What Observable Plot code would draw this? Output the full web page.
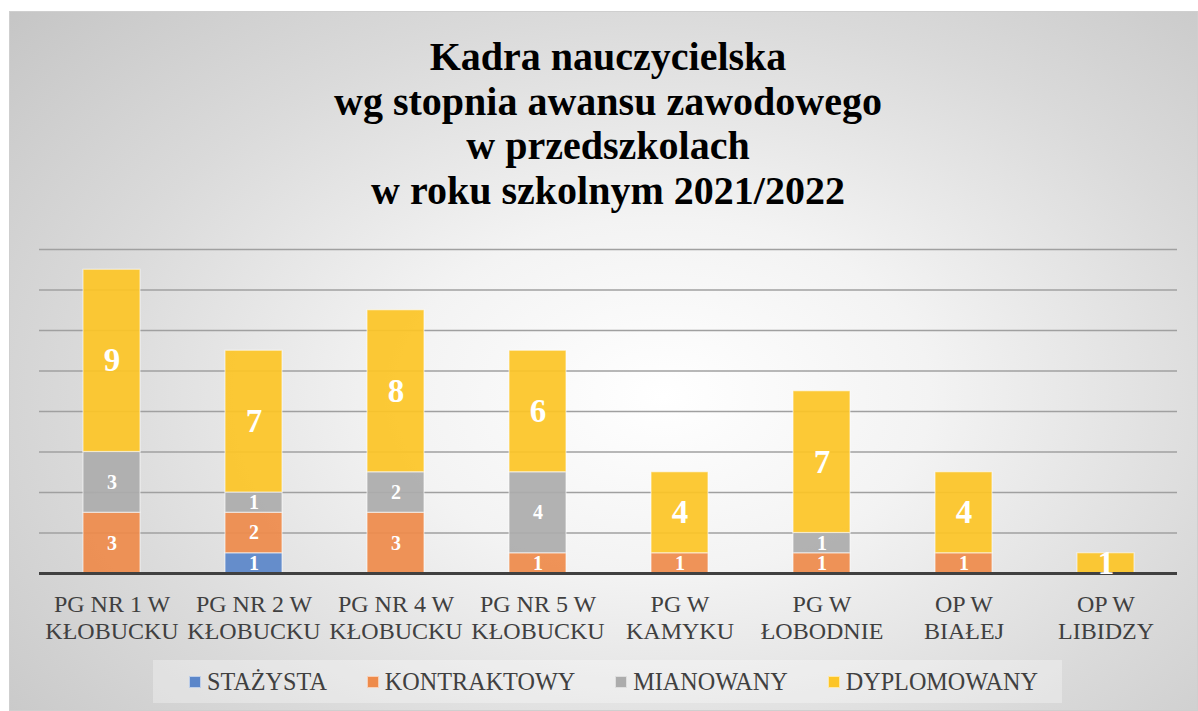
<!DOCTYPE html>
<html>
<head>
<meta charset="utf-8">
<script src="https://cdn.jsdelivr.net/npm/d3@7"></script>
<script src="https://cdn.jsdelivr.net/npm/@observablehq/plot@0.6"></script>
<style>
  html, body { margin: 0; padding: 0; background: #ffffff; width: 1198px; height: 711px; overflow: hidden; }
  #frame {
    position: absolute; left: 9px; top: 11px; width: 1187px; height: 698px;
    border: 1px solid #cfcfcf;
    background: radial-gradient(ellipse 75% 85% at 55% 55%, #ffffff 0%, #f3f3f3 30%, #dadada 65%, #c4c4c4 100%);
  }
  #title {
    position: absolute; left: 0; top: 35px; width: 1216px; text-align: center;
    font-family: "Liberation Serif", "Times New Roman", serif; font-weight: bold;
    font-size: 40px; line-height: 44.5px; color: #000;
  }
  #chart { position: absolute; left: 0; top: 0; }
  #legend {
    position: absolute; left: 153px; top: 660px; width: 909px; height: 43px;
    padding-left: 12px; box-sizing: border-box;
    background: rgba(255,255,255,0.3);
    display: flex; align-items: center; justify-content: center; gap: 40px;
    font-family: "Liberation Serif", "Times New Roman", serif; font-size: 24.2px; color: #404040;
  }
  .item { display: flex; align-items: center; }
  .sw { width: 12px; height: 12px; margin-right: 6px; box-sizing: border-box; border: 1px solid rgba(255,255,255,0.6); }
</style>
</head>
<body>
<div id="frame"></div>
<div id="title">Kadra nauczycielska<br>wg stopnia awansu zawodowego<br>w przedszkolach<br>w roku szkolnym 2021/2022</div>
<div id="chart"></div>
<div id="legend"></div>
<script>
// ---- data ----
const categories = [
  "PG NR 1 W\nKŁOBUCKU",
  "PG NR 2 W\nKŁOBUCKU",
  "PG NR 4 W\nKŁOBUCKU",
  "PG NR 5 W\nKŁOBUCKU",
  "PG W\nKAMYKU",
  "PG W\nŁOBODNIE",
  "OP W\nBIAŁEJ",
  "OP W\nLIBIDZY"
];
const grades = ["STAŻYSTA", "KONTRAKTOWY", "MIANOWANY", "DYPLOMOWANY"];
const stazysta     = [0, 1, 0, 0, 0, 0, 0, 0];
const kontraktowy  = [3, 2, 3, 1, 1, 1, 1, 0];
const mianowany    = [3, 1, 2, 4, 0, 1, 0, 0];
const dyplomowany  = [9, 7, 8, 6, 4, 7, 4, 1];
const gradeColors  = ["#5b86c9", "#ee8b4b", "#acacac", "#fcc527"];
const yGrid = [2, 4, 6, 8, 10, 12, 14, 16];

const series = [stazysta, kontraktowy, mianowany, dyplomowany];
const data = [];
categories.forEach((c, i) => {
  grades.forEach((g, j) => {
    const v = series[j][i];
    if (v > 0) data.push({category: c, grade: g, value: v});
  });
});

const W = 1198, H = 650;
const chart = Plot.plot({
  width: W,
  height: H,
  marginLeft: 39,
  marginRight: 21,
  marginTop: 249,
  marginBottom: H - 573,
  style: {background: "transparent", fontFamily: "Liberation Serif, Times New Roman, serif"},
  x: {domain: categories, paddingInner: 0.6, paddingOuter: 0.3, label: null},
  y: {domain: [0, 16], axis: null},
  color: {domain: grades, range: gradeColors},
  marks: [
    Plot.ruleY(yGrid, {stroke: "#a0a0a0", strokeWidth: 1.3}),
    Plot.barY(data, Plot.stackY({x: "category", y: "value", z: "grade", fill: "grade", fillOpacity: 0.93, stroke: "#ffffff", strokeOpacity: 0.55, strokeWidth: 1.2})),
    Plot.ruleY([0], {stroke: "#404040", strokeWidth: 3}),
    Plot.text(data, Plot.stackY({
      x: "category", y: "value", z: "grade",
      text: d => String(d.value),
      fontSize: d => d.grade === "DYPLOMOWANY" ? 33 : 20,
      fill: "white", fontWeight: "bold",
      fontFamily: "Liberation Serif, Times New Roman, serif",
      lineAnchor: "middle"
    })),
    Plot.axisX({tickSize: 0, tickPadding: 19, fontSize: 24, lineHeight: 1.125, fill: "#404040", fontFamily: "Liberation Serif, Times New Roman, serif", label: null})
  ]
});
document.getElementById("chart").appendChild(chart);

const legend = document.getElementById("legend");
grades.forEach((g, i) => {
  const item = document.createElement("div");
  item.className = "item";
  const sw = document.createElement("div");
  sw.className = "sw";
  sw.style.background = gradeColors[i];
  const t = document.createElement("span");
  t.textContent = g;
  item.appendChild(sw);
  item.appendChild(t);
  legend.appendChild(item);
});
</script>
</body>
</html>
